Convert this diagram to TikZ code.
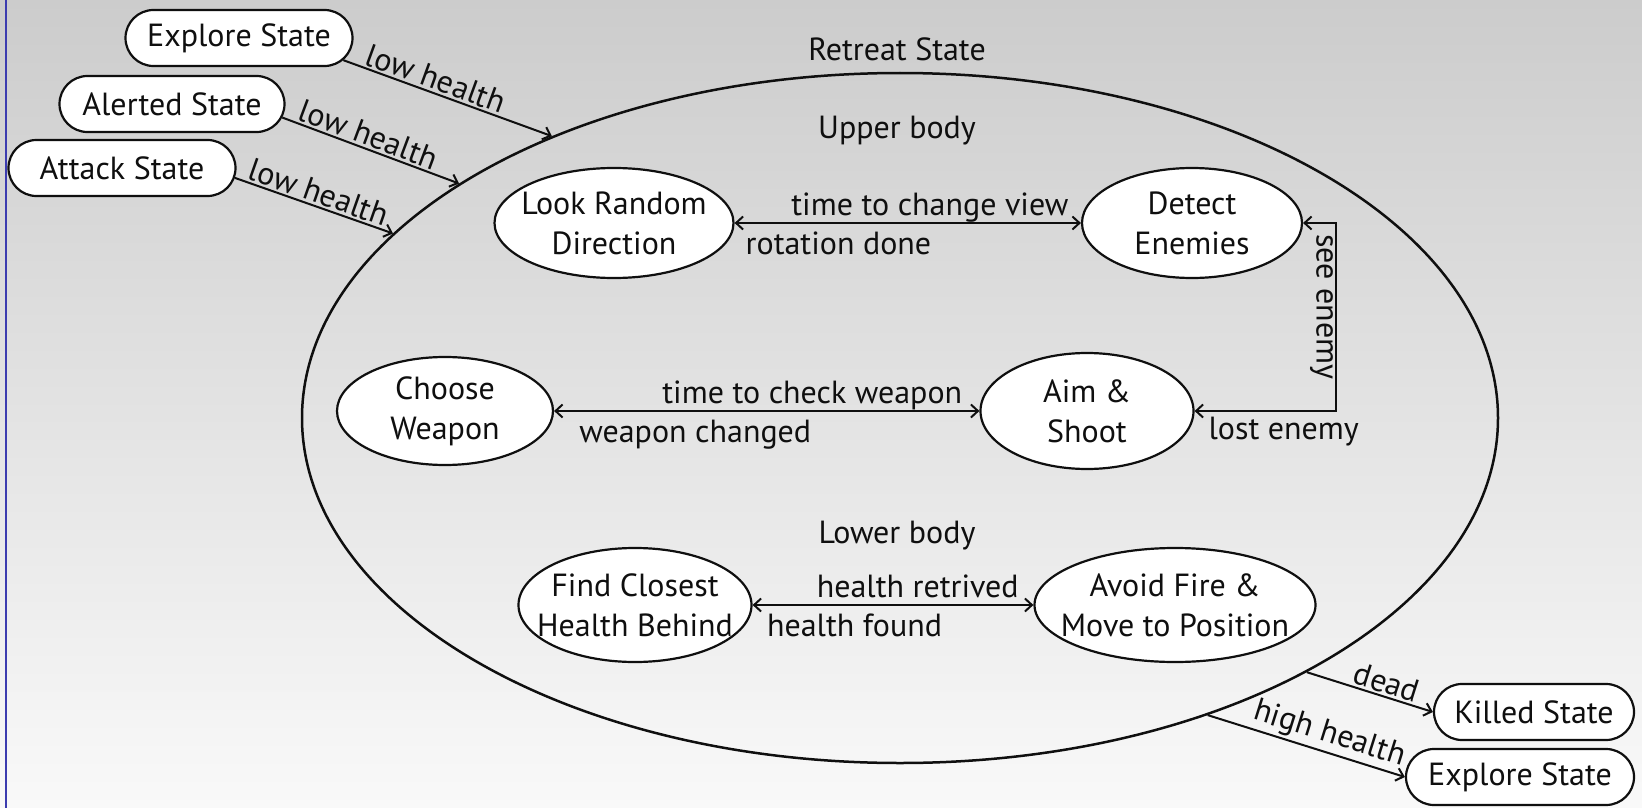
\documentclass[tikz,border=0pt]{standalone}
\usepackage{fontspec}
\setmainfont{PT Sans}
\usetikzlibrary{shapes.geometric,shapes.misc,arrows.meta}
\definecolor{bgtop}{RGB}{204,204,204}
\definecolor{bgbot}{RGB}{249,249,249}
\definecolor{edgeblue}{RGB}{60,60,175}
\definecolor{ink}{RGB}{15,15,15}
\begin{document}
\begin{tikzpicture}[x=1pt,y=-1pt,
  every node/.style={font=\fontsize{32}{40}\selectfont, text=ink},
  statebox/.style={rounded rectangle, draw=ink, fill=white, line width=2.2pt, inner sep=0pt, minimum height=56pt},
  substate/.style={ellipse, draw=ink, fill=white, line width=2.2pt, inner sep=0pt},
  inlabel/.style={align=center, inner sep=0pt},
  conn/.style={draw=ink, line width=2pt, -{Straight Barb[length=7pt,width=13pt]}},
  dconn/.style={draw=ink, line width=2pt, {Straight Barb[length=7pt,width=13pt]}-{Straight Barb[length=7pt,width=13pt]}},
  tag/.style={inner sep=2pt},
  tagabove/.style={inner sep=0pt, anchor=base, yshift=8pt},
  tagbelow/.style={inner sep=0pt, anchor=base, yshift=-31pt},
]
\shade[top color=bgtop, bottom color=bgbot] (0,0) rectangle (1642,808);
\useasboundingbox (0,0) rectangle (1642,808);
\draw[edgeblue, line width=2pt] (6,0) -- (6,808);

% outer state
\node[ellipse, draw=ink, line width=2.5pt, inner sep=0pt, minimum width=1196pt, minimum height=690pt] (retreat) at (900,418) {};
\node (retreattitle) at (897,49) {Retreat State};
\node (upper) at (897,131) {Upper body};
\node (lower) at (897,536) {Lower body};

% sub states
\node[substate, minimum width=239pt, minimum height=110pt, label={[inlabel]center:Look Random\\Direction}] (look) at (614,223) {};
\node[substate, minimum width=220pt, minimum height=110pt, label={[inlabel]center:Detect\\Enemies}] (detect) at (1192,223) {};
\node[substate, minimum width=216pt, minimum height=108pt, label={[inlabel]center:Choose\\Weapon}] (choose) at (445,411) {};
\node[substate, minimum width=213pt, minimum height=116pt, label={[inlabel]center:Aim \&\\Shoot}] (aim) at (1087,411) {};
\node[substate, minimum width=233pt, minimum height=114pt, label={[inlabel]center:Find Closest\\Health Behind}] (find) at (635,605) {};
\node[substate, minimum width=281pt, minimum height=114pt, label={[inlabel]center:Avoid Fire \&\\Move to Position}] (avoid) at (1175,605) {};

% outside states
\node[statebox, minimum width=227pt] (explore) at (239,38) {Explore State};
\node[statebox, minimum width=225pt] (alerted) at (172,104) {Alerted State};
\node[statebox, minimum width=227pt] (attack) at (122,168) {Attack State};
\node[statebox, minimum width=200pt] (killed) at (1534,712) {Killed State};
\node[statebox, minimum width=228pt] (explore2) at (1520,777) {Explore State};

\coordinate (sx) at (1336,0);

% internal transitions
\draw[dconn] (look) -- node[tagabove, pos=0.564]{time to change view} node[tagbelow, pos=0.30]{rotation done} (detect);
\draw[dconn] (choose) -- node[tagabove, pos=0.607]{time to check weapon} node[tagbelow, pos=0.332]{weapon changed} (aim);
\draw[dconn] (find) -- node[tagabove, pos=0.588]{health retrived} node[tagbelow, pos=0.363]{health found} (avoid);
\draw[dconn] (aim.east) -- node[inner sep=0pt, anchor=base, yshift=-28pt, pos=0.63]{lost enemy} (aim.east -| sx) |- node[rotate=-90, anchor=north, inner sep=2pt, pos=0.277]{see enemy} (detect.east);

% entering / leaving transitions
\draw[conn] (explore.-12) -- node[tag, sloped, above, pos=0.42]{low health} (retreat.141);
\draw[conn] (alerted.-7) -- node[tag, sloped, above, pos=0.46]{low health} (retreat.152);
\draw[conn] (attack.-5) -- node[tag, sloped, above, pos=0.5]{low health} (retreat.160);
\draw[conn] (retreat.-32) -- node[tag, sloped, above, pos=0.6]{dead} (killed.west);
\draw[conn] (retreat.-44) -- node[tag, sloped, above, pos=0.59]{high health} (explore2.west);
\end{tikzpicture}
\end{document}
